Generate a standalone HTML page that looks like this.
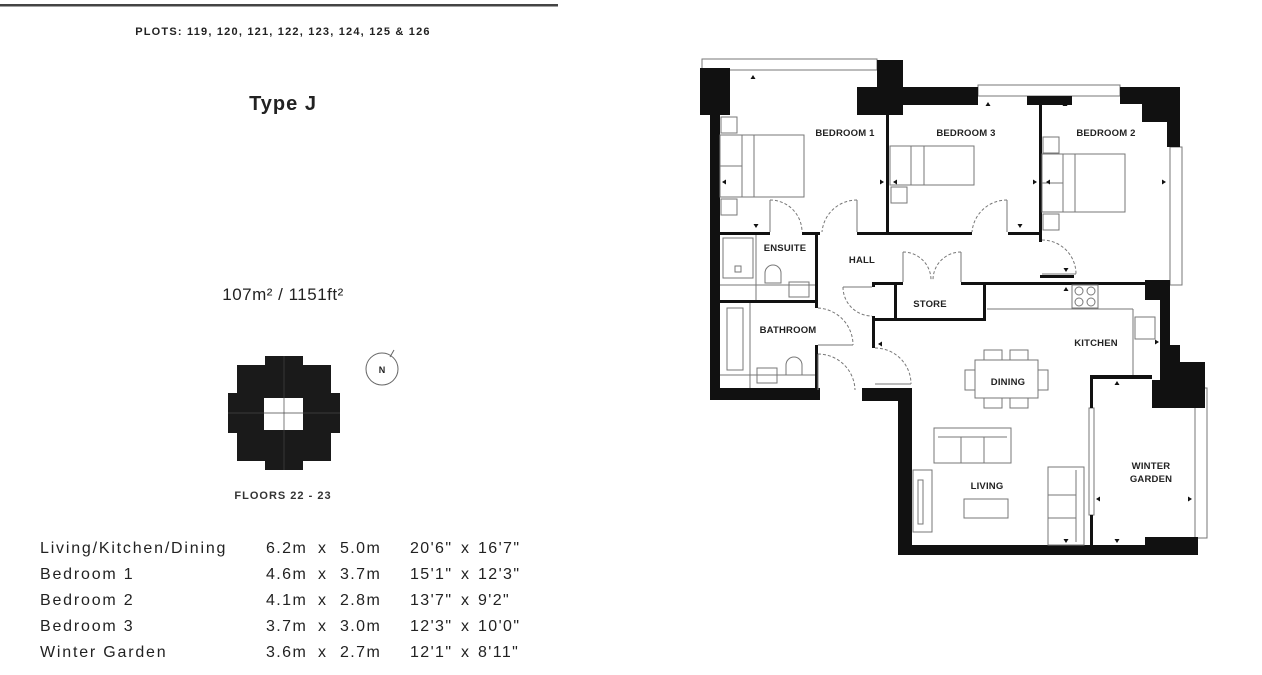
<!DOCTYPE html>
<html><head><meta charset="utf-8"><style>
html,body{margin:0;padding:0;background:#fff;width:1262px;height:675px;overflow:hidden}
svg{display:block}
text{font-family:"Liberation Sans",sans-serif;fill:#222}
.lb{font-size:9.5px;font-weight:bold;letter-spacing:0.2px}
.tb{font-size:16px;letter-spacing:1.4px;fill:#2a2a2a}
.tn{letter-spacing:1.8px}
</style></head><body>
<svg width="1262" height="675" viewBox="0 0 1262 675" xmlns="http://www.w3.org/2000/svg">
<rect x="0" y="4" width="558" height="2.5" fill="#444"/>
<text x="283" y="35" text-anchor="middle" style="font-size:11px;font-weight:bold;letter-spacing:1.2px">PLOTS: 119, 120, 121, 122, 123, 124, 125 &amp; 126</text>
<text x="283" y="110" text-anchor="middle" style="font-size:20px;font-weight:bold;letter-spacing:1px">Type J</text>
<text x="283" y="300" text-anchor="middle" style="font-size:17px;letter-spacing:0.5px">107m² / 1151ft²</text>
<path fill="#1a1a1a" fill-rule="evenodd" d="M265,356 H303 V365 H331 V393 H340 V433 H331 V461 H303 V470 H265 V461 H237 V433 H228 V393 H237 V365 H265 Z M264,398 V430 H303 V398 Z"/>
<line x1="284" y1="356" x2="284" y2="470" stroke="#444" stroke-width="0.7"/>
<line x1="228" y1="413" x2="340" y2="413" stroke="#444" stroke-width="0.7"/>
<circle cx="382" cy="369" r="16" fill="none" stroke="#666" stroke-width="1"/>
<line x1="390" y1="357" x2="394" y2="350" stroke="#666" stroke-width="1"/>
<text x="382" y="373" text-anchor="middle" style="font-size:9px;font-weight:bold">N</text>
<text x="283" y="499" text-anchor="middle" style="font-size:11px;font-weight:bold;letter-spacing:1px;fill:#333">FLOORS 22 - 23</text>
<g class="tb">
<text class="tn" x="40" y="553">Living/Kitchen/Dining</text><text x="266" y="553">6.2m</text><text x="318" y="553">x</text><text x="340" y="553">5.0m</text><text x="410" y="553">20'6"</text><text x="461" y="553">x</text><text x="478" y="553">16'7"</text>
<text class="tn" x="40" y="579">Bedroom 1</text><text x="266" y="579">4.6m</text><text x="318" y="579">x</text><text x="340" y="579">3.7m</text><text x="410" y="579">15'1"</text><text x="461" y="579">x</text><text x="478" y="579">12'3"</text>
<text class="tn" x="40" y="605">Bedroom 2</text><text x="266" y="605">4.1m</text><text x="318" y="605">x</text><text x="340" y="605">2.8m</text><text x="410" y="605">13'7"</text><text x="461" y="605">x</text><text x="478" y="605">9'2"</text>
<text class="tn" x="40" y="631">Bedroom 3</text><text x="266" y="631">3.7m</text><text x="318" y="631">x</text><text x="340" y="631">3.0m</text><text x="410" y="631">12'3"</text><text x="461" y="631">x</text><text x="478" y="631">10'0"</text>
<text class="tn" x="40" y="657">Winter Garden</text><text x="266" y="657">3.6m</text><text x="318" y="657">x</text><text x="340" y="657">2.7m</text><text x="410" y="657">12'1"</text><text x="461" y="657">x</text><text x="478" y="657">8'11"</text>
</g>

<g fill="none" stroke="#777" stroke-width="1">
<rect x="702" y="59" width="175" height="11"/>
<rect x="978" y="85" width="142" height="11"/>
<rect x="1170" y="147" width="12" height="138"/>
<rect x="1195" y="388" width="12" height="150"/>
<rect x="1089" y="408" width="5" height="107"/>
</g>
<g fill="#111">
<rect x="700" y="68" width="30" height="47"/>
<rect x="710" y="115" width="10" height="285"/>
<rect x="710" y="388" width="110" height="12"/>
<rect x="877" y="60" width="26" height="30"/>
<rect x="857" y="87" width="46" height="28"/>
<rect x="903" y="87" width="75" height="18"/>
<rect x="1027" y="96" width="45" height="9"/>
<path d="M1120,87 H1180 V147 H1167 V122 H1142 V104 H1120 Z"/>
<path d="M1145,280 H1170 V345 H1180 V362 H1205 V408 H1152 V380 H1160 V300 H1145 Z"/>
<rect x="862" y="388" width="50" height="13"/>
<rect x="898" y="388" width="14" height="167"/>
<rect x="898" y="545" width="300" height="10"/>
<rect x="1145" y="537" width="53" height="18"/>
<rect x="886" y="105" width="3" height="130"/>
<rect x="1039" y="97" width="3" height="145"/>
<rect x="720" y="232" width="50" height="3"/>
<rect x="802" y="232" width="18" height="3"/>
<rect x="857" y="232" width="115" height="3"/>
<rect x="1008" y="232" width="34" height="3"/>
<rect x="815" y="232" width="3" height="76"/>
<rect x="815" y="345" width="3" height="45"/>
<rect x="720" y="300" width="98" height="3"/>
<rect x="872" y="282" width="31" height="3"/>
<rect x="961" y="282" width="199" height="3"/>
<rect x="872" y="282" width="3" height="5"/>
<rect x="872" y="316" width="3" height="32"/>
<rect x="894" y="282" width="3" height="39"/>
<rect x="873" y="318" width="113" height="3"/>
<rect x="983" y="282" width="3" height="39"/>
<rect x="1040" y="275" width="34" height="3"/>
<rect x="1090" y="375" width="62" height="4"/>
<rect x="1090" y="375" width="3" height="33"/>
<rect x="1090" y="515" width="3" height="32"/>
</g>
<g fill="none" stroke="#777" stroke-width="1" stroke-dasharray="3,2">
<path d="M770,200 A32,32 0 0 1 802,232"/>
<path d="M857,200 A35,35 0 0 0 822,232"/>
<path d="M1007,200 A35,35 0 0 0 972,232"/>
<path d="M1042,240 A34,34 0 0 1 1076,274"/>
<path d="M903,252 A28,28 0 0 1 931,280"/>
<path d="M961,252 A28,28 0 0 0 933,280"/>
<path d="M843,287 A29,29 0 0 0 872,316"/>
<path d="M818,308 A37,37 0 0 1 853,345"/>
<path d="M818,354 A37,37 0 0 1 855,390"/>
<path d="M875,348 A36,36 0 0 1 911,384"/>
</g>
<g stroke="#777" stroke-width="1" fill="none">
<line x1="770" y1="200" x2="770" y2="232"/><line x1="857" y1="200" x2="857" y2="232"/>
<line x1="1007" y1="200" x2="1007" y2="232"/><line x1="1042" y1="274" x2="1076" y2="274"/>
<line x1="903" y1="252" x2="903" y2="282"/><line x1="961" y1="252" x2="961" y2="282"/>
<line x1="843" y1="287" x2="872" y2="287"/><line x1="818" y1="345" x2="853" y2="345"/>
<line x1="818" y1="354" x2="818" y2="390"/><line x1="875" y1="384" x2="911" y2="384"/>
<rect x="720" y="135" width="84" height="62"/><line x1="742" y1="135" x2="742" y2="197"/><line x1="754" y1="135" x2="754" y2="197"/><line x1="720" y1="166" x2="742" y2="166"/>
<rect x="721" y="117" width="16" height="16"/><rect x="721" y="199" width="16" height="16"/>
<rect x="890" y="146" width="84" height="39"/><line x1="911" y1="146" x2="911" y2="185"/><line x1="924" y1="146" x2="924" y2="185"/>
<rect x="891" y="187" width="16" height="16"/>
<rect x="1042" y="154" width="83" height="58"/><line x1="1063" y1="154" x2="1063" y2="212"/><line x1="1075" y1="154" x2="1075" y2="212"/><line x1="1042" y1="183" x2="1063" y2="183"/>
<rect x="1043" y="137" width="16" height="16"/><rect x="1043" y="214" width="16" height="16"/>
<rect x="723" y="238" width="30" height="40"/><rect x="735" y="266" width="6" height="6"/>
<line x1="720" y1="285" x2="815" y2="285"/><line x1="756" y1="235" x2="756" y2="300"/>
<path d="M765,283 V273 A8,8 0 0 1 781,273 V283 Z"/><rect x="789" y="282" width="20" height="15"/>
<rect x="727" y="308" width="16" height="62"/><line x1="720" y1="375" x2="815" y2="375"/><line x1="750" y1="303" x2="750" y2="388"/>
<path d="M786,375 V365 A8,8 0 0 1 802,365 V375 Z"/><rect x="757" y="368" width="20" height="15"/>
<line x1="987" y1="309" x2="1133" y2="309"/><line x1="1133" y1="309" x2="1133" y2="375"/>
<rect x="1072" y="285" width="26" height="23"/>
<circle cx="1079" cy="291" r="4"/><circle cx="1091" cy="291" r="4"/><circle cx="1079" cy="302" r="4"/><circle cx="1091" cy="302" r="4"/>
<rect x="1135" y="317" width="20" height="22"/>
<rect x="975" y="360" width="63" height="38"/>
<rect x="984" y="350" width="18" height="10"/><rect x="1010" y="350" width="18" height="10"/>
<rect x="984" y="398" width="18" height="10"/><rect x="1010" y="398" width="18" height="10"/>
<rect x="965" y="370" width="10" height="20"/><rect x="1038" y="370" width="10" height="20"/>
<rect x="934" y="428" width="77" height="35"/><line x1="961" y1="437" x2="961" y2="463"/><line x1="984" y1="437" x2="984" y2="463"/><line x1="938" y1="437" x2="1007" y2="437"/>
<rect x="1048" y="467" width="36" height="78"/><line x1="1048" y1="495" x2="1076" y2="495"/><line x1="1048" y1="518" x2="1076" y2="518"/><line x1="1076" y1="470" x2="1076" y2="542"/>
<rect x="964" y="499" width="44" height="19"/>
<rect x="913" y="470" width="19" height="62"/><rect x="918" y="480" width="5" height="44"/>
</g>
<g fill="#111">
<path d="M753,75 l-2.5,4 h5 z"/><path d="M988,102 l-2.5,4 h5 z"/><path d="M1065,102 l-2.5,4 h5 z"/>
<path d="M722,182 l4,-2.5 v5 z"/><path d="M884,182 l-4,-2.5 v5 z"/><path d="M893,182 l4,-2.5 v5 z"/>
<path d="M1037,182 l-4,-2.5 v5 z"/><path d="M1046,182 l4,-2.5 v5 z"/><path d="M1166,182 l-4,-2.5 v5 z"/>
<path d="M756,228 l-2.5,-4 h5 z"/><path d="M1020,228 l-2.5,-4 h5 z"/><path d="M1066,272 l-2.5,-4 h5 z"/>
<path d="M1066,287 l-2.5,4 h5 z"/><path d="M878,344 l4,-2.5 v5 z"/><path d="M1159,342 l-4,-2.5 v5 z"/>
<path d="M1117,381 l-2.5,4 h5 z"/><path d="M1096,499 l4,-2.5 v5 z"/><path d="M1192,499 l-4,-2.5 v5 z"/>
<path d="M1066,543 l-2.5,-4 h5 z"/><path d="M1117,543 l-2.5,-4 h5 z"/>
</g>
<g class="lb" text-anchor="middle">
<text x="845" y="136">BEDROOM 1</text>
<text x="966" y="136">BEDROOM 3</text>
<text x="1106" y="136">BEDROOM 2</text>
<text x="785" y="251">ENSUITE</text>
<text x="862" y="263">HALL</text>
<text x="930" y="307">STORE</text>
<text x="788" y="333">BATHROOM</text>
<text x="1096" y="346">KITCHEN</text>
<text x="1008" y="385">DINING</text>
<text x="987" y="489">LIVING</text>
<text x="1151" y="469">WINTER</text>
<text x="1151" y="482">GARDEN</text>
</g>
</svg>
</body></html>
